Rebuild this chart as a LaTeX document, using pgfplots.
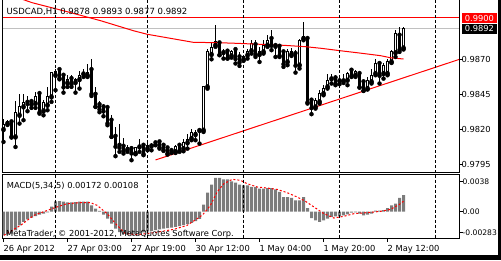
\documentclass[border=0pt]{standalone}
\usepackage{pgfplots}
\pgfplotsset{compat=1.18}
\usepackage{pgfplotstable}
\usepackage{fontspec}
\setmainfont{DejaVu Sans}
\definecolor{mtred}{RGB}{255,0,0}
\definecolor{bidgray}{RGB}{192,192,192}
\definecolor{histgray}{RGB}{124,124,124}
\newcommand{\mtfont}{\fontsize{8.3bp}{10bp}\selectfont}
\newcommand{\mtsmall}{\fontsize{7.6bp}{9bp}\selectfont}

\pgfplotstableread{
i o h l c
0 0.98198 0.98277 0.98110 0.98236
1 0.98241 0.98269 0.98231 0.98253
2 0.98253 0.98265 0.98141 0.98150
3 0.98145 0.98403 0.98074 0.98317
4 0.98300 0.98455 0.98241 0.98365
5 0.98360 0.98450 0.98265 0.98388
6 0.98393 0.98436 0.98329 0.98384
7 0.98398 0.98419 0.98353 0.98379
8 0.98384 0.98467 0.98353 0.98436
9 0.98455 0.98460 0.98312 0.98324
10 0.98331 0.98407 0.98300 0.98388
11 0.98372 0.98503 0.98336 0.98436
12 0.98431 0.98610 0.98396 0.98605
13 0.98586 0.98634 0.98479 0.98610
14 0.98626 0.98636 0.98557 0.98567
15 0.98586 0.98598 0.98462 0.98503
16 0.98531 0.98586 0.98503 0.98557
17 0.98562 0.98591 0.98503 0.98526
18 0.98534 0.98569 0.98462 0.98555
19 0.98555 0.98617 0.98491 0.98586
20 0.98595 0.98634 0.98574 0.98600
21 0.98584 0.98665 0.98574 0.98607
22 0.98626 0.98700 0.98438 0.98455
23 0.98450 0.98503 0.98360 0.98365
24 0.98376 0.98403 0.98322 0.98345
25 0.98360 0.98379 0.98293 0.98331
26 0.98355 0.98365 0.98229 0.98246
27 0.98265 0.98305 0.98146 0.98150
28 0.98150 0.98217 0.98008 0.98079
29 0.98086 0.98241 0.98039 0.98070
30 0.98079 0.98141 0.98027 0.98050
31 0.98055 0.98086 0.98039 0.98067
32 0.98062 0.98074 0.97979 0.98031
33 0.98027 0.98074 0.98022 0.98067
34 0.98074 0.98134 0.98039 0.98081
35 0.98086 0.98103 0.98015 0.98027
36 0.98062 0.98127 0.98050 0.98081
37 0.98081 0.98103 0.98050 0.98088
38 0.98103 0.98115 0.98086 0.98093
39 0.98110 0.98127 0.98062 0.98074
40 0.98086 0.98093 0.98046 0.98055
41 0.98067 0.98079 0.98019 0.98031
42 0.98048 0.98067 0.98031 0.98053
43 0.98039 0.98091 0.98031 0.98079
44 0.98086 0.98103 0.98039 0.98050
45 0.98062 0.98134 0.98043 0.98103
46 0.98103 0.98169 0.98062 0.98129
47 0.98134 0.98205 0.98122 0.98177
48 0.98162 0.98198 0.98122 0.98179
49 0.98191 0.98205 0.98098 0.98196
50 0.98193 0.98510 0.98181 0.98503
51 0.98503 0.98770 0.98490 0.98758
52 0.98734 0.98824 0.98700 0.98784
53 0.98800 0.98943 0.98789 0.98824
54 0.98817 0.98824 0.98729 0.98734
55 0.98748 0.98777 0.98705 0.98753
56 0.98758 0.98765 0.98705 0.98710
57 0.98724 0.98769 0.98712 0.98758
58 0.98769 0.98777 0.98670 0.98705
59 0.98717 0.98753 0.98653 0.98681
60 0.98698 0.98729 0.98689 0.98717
61 0.98729 0.98777 0.98705 0.98753
62 0.98760 0.98836 0.98741 0.98812
63 0.98805 0.98836 0.98717 0.98734
64 0.98734 0.98789 0.98681 0.98753
65 0.98753 0.98836 0.98741 0.98800
66 0.98800 0.98872 0.98789 0.98836
67 0.98848 0.98908 0.98765 0.98800
68 0.98798 0.98812 0.98717 0.98793
69 0.98793 0.98800 0.98717 0.98729
70 0.98753 0.98765 0.98646 0.98669
71 0.98681 0.98777 0.98658 0.98753
72 0.98734 0.98784 0.98724 0.98753
73 0.98741 0.98765 0.98605 0.98658
74 0.98658 0.98848 0.98634 0.98836
75 0.98848 0.98967 0.98836 0.98865
76 0.98848 0.98860 0.98384 0.98396
77 0.98408 0.98420 0.98308 0.98355
78 0.98360 0.98420 0.98348 0.98408
79 0.98396 0.98479 0.98384 0.98455
80 0.98455 0.98515 0.98443 0.98491
81 0.98503 0.98598 0.98491 0.98550
82 0.98560 0.98598 0.98527 0.98565
83 0.98567 0.98586 0.98515 0.98527
84 0.98546 0.98574 0.98522 0.98550
85 0.98546 0.98598 0.98531 0.98555
86 0.98550 0.98610 0.98515 0.98598
87 0.98622 0.98634 0.98574 0.98586
88 0.98586 0.98622 0.98574 0.98610
89 0.98598 0.98610 0.98498 0.98503
90 0.98539 0.98550 0.98474 0.98479
91 0.98491 0.98574 0.98484 0.98550
92 0.98539 0.98634 0.98527 0.98586
93 0.98598 0.98705 0.98586 0.98670
94 0.98670 0.98681 0.98527 0.98586
95 0.98598 0.98670 0.98562 0.98658
96 0.98598 0.98705 0.98586 0.98681
97 0.98681 0.98765 0.98674 0.98753
98 0.98746 0.98912 0.98717 0.98884
99 0.98872 0.98931 0.98753 0.98770
100 0.98780 0.98930 0.98770 0.98920
}\candles

\pgfplotstableread{
i m
0 -0.00245
1 -0.00238
2 -0.00228
3 -0.00193
4 -0.00142
5 -0.00107
6 -0.00079
7 -0.00062
8 -0.00045
9 -0.00031
10 -0.00021
11 -0.00007
12 0.00052
13 0.00107
14 0.00110
15 0.00104
16 0.00097
17 0.00097
18 0.00100
19 0.00104
20 0.00104
21 0.00104
22 0.00066
23 0.00031
24 0.00007
25 -0.00031
26 -0.00073
27 -0.00124
28 -0.00176
29 -0.00211
30 -0.00228
31 -0.00238
32 -0.00245
33 -0.00235
34 -0.00225
35 -0.00215
36 -0.00205
37 -0.00198
38 -0.00190
39 -0.00183
40 -0.00176
41 -0.00170
42 -0.00164
43 -0.00158
44 -0.00150
45 -0.00140
46 -0.00128
47 -0.00115
48 -0.00098
49 -0.00075
50 0.00073
51 0.00197
52 0.00280
53 0.00349
54 0.00349
55 0.00335
56 0.00335
57 0.00314
58 0.00300
59 0.00280
60 0.00273
61 0.00273
62 0.00256
63 0.00256
64 0.00238
65 0.00238
66 0.00245
67 0.00245
68 0.00231
69 0.00204
70 0.00152
71 0.00152
72 0.00142
73 0.00117
74 0.00117
75 0.00152
76 0.00038
77 -0.00066
78 -0.00090
79 -0.00107
80 -0.00090
81 -0.00073
82 -0.00055
83 -0.00048
84 -0.00048
85 -0.00038
86 -0.00028
87 -0.00010
88 -0.00007
89 -0.00021
90 -0.00038
91 -0.00031
92 -0.00021
93 0.00010
94 0.00010
95 0.00017
96 0.00038
97 0.00066
98 0.00083
99 0.00142
100 0.00172
}\macd

\begin{document}
\begin{tikzpicture}[x=1bp,y=1bp]
% ---------------- main price panel
\begin{axis}[name=main, at={(2.5bp,87.5bp)}, anchor=south west, scale only axis,
  width=457bp, height=172.5bp,
  xmin=-0.25, xmax=114, ymin=0.978914, ymax=0.991236,
  axis line style={draw=none},
  xtick=\empty,
  ytick={0.9795,0.9820,0.9845,0.9870},
  yticklabels={0.9795,0.9820,0.9845,0.9870},
  ytick pos=right, yticklabel pos=right,
  scaled ticks=false,
  tick align=outside, major tick length=3bp,
  tick style={black, line width=1bp},
  yticklabel style={anchor=west, inner sep=0pt, font=\mtfont, xshift=-1bp},
]
\addplot[bidgray, line width=1bp] coordinates {(-0.25,0.9892) (114,0.9892)};
% wicks
\addplot[only marks, mark=none, error bars/.cd, y dir=plus, y explicit, error mark=none,
  error bar style={black, solid, line width=1bp}]
  table[x=i, y=l, y error expr={\thisrow{h}-\thisrow{l}}] {\candles};
% bodies (outline / black)
\addplot[only marks, mark=none, error bars/.cd, y dir=plus, y explicit, error mark=none,
  error bar style={black, solid, line width=3bp, line cap=butt}]
  table[x=i, y expr={min(\thisrow{o},\thisrow{c})-0.0000357},
        y error expr={abs(\thisrow{c}-\thisrow{o})+0.0000714}] {\candles};
% white interior of rising candles
\addplot[only marks, mark=none, error bars/.cd, y dir=plus, y explicit, error mark=none,
  error bar style={white, solid, line width=1bp, line cap=butt}]
  table[x=i, y expr={\thisrow{o}+0.0000357},
        y error expr={max(\thisrow{c}-\thisrow{o}-0.0000714,0)}] {\candles};
% moving average
\addplot[mtred, line width=1bp] coordinates {
(0,0.99175) (7.2,0.99104) (15.9,0.99040) (24.25,0.98976) (32.5,0.98904)
(35.9,0.98879) (40.9,0.98854) (47.5,0.98821) (53.4,0.98819) (58.4,0.98814)
(64.25,0.98807) (70,0.98800) (75.5,0.98790) (79.25,0.98779) (84.25,0.98761)
(88.4,0.98747) (94.25,0.98726) (96.75,0.98711) (100,0.98702)};
% trend line
\addplot[mtred, line width=1bp] coordinates {(38,0.97981) (114,0.98700)};
% horizontal line
\addplot[mtred, line width=1bp] coordinates {(-0.25,0.9900) (114,0.9900)};
% period separators
\pgfplotsinvokeforeach{13,36,60,84,108}{
  \addplot[black, line width=1bp, dash pattern=on 3bp off 2bp] coordinates {(#1,0.991236) (#1,0.978914)};
}
\end{axis}
% ---------------- MACD panel
\begin{axis}[name=macdax, at={(2.5bp,21.5bp)}, anchor=south west, scale only axis,
  width=457bp, height=64bp,
  xmin=-0.25, xmax=114, ymin=-0.002780, ymax=0.003851,
  axis line style={black, line width=1bp},
  xtick={0,16,32,48,64,80,96},
  xticklabels={26 Apr 2012,27 Apr 03:00,27 Apr 19:00,30 Apr 12:00,1 May 04:00,1 May 20:00,2 May 12:00},
  xtick pos=left, ytick pos=right, yticklabel pos=right,
  ytick={-0.002179,0,0.003105}, yticklabels={-0.00283,0.00,0.0038},
  scaled ticks=false,
  tick align=outside, major tick length=3.5bp,
  tick style={black, line width=1bp},
  xticklabel style={anchor=north west, inner sep=0pt, font=\mtfont, yshift=-3.5bp},
  yticklabel style={anchor=west, inner sep=0pt, font=\mtsmall, xshift=-0.5bp},
]
\addplot[ybar, bar width=3bp, bar shift=0pt, fill=histgray, draw=none] table[x=i, y=m] {\macd};
\addplot[mtred, line width=1bp, dash pattern=on 2bp off 2bp] coordinates {
(0.1,-0.00245) (4.25,-0.00142) (7.6,-0.00038) (12.6,0.00038) (15.9,0.00083)
(19.25,0.00093) (21.75,0.00093) (23.4,0.00066) (25.9,-0.00021) (28.4,-0.00142)
(30.5,-0.00228) (33.4,-0.00238) (37.6,-0.00218) (42.6,-0.00183) (45.9,-0.00142)
(48.4,-0.00073) (49.75,-0.00034) (51.75,0.00066) (53.4,0.00204) (55.1,0.00290)
(57.2,0.00335) (59.25,0.00325) (60.9,0.00290) (63.4,0.00256) (65.9,0.00245)
(68.4,0.00231) (70.9,0.00197) (73.4,0.00152) (75.5,0.00107) (78,0.00038)
(80.1,-0.00021) (82.6,-0.00066) (85.1,-0.00048) (87.6,-0.00021) (90.9,-0.00010)
(94.25,0.00003) (96.75,0.00024) (99,0.00076) (100,0.00108)};
\pgfplotsinvokeforeach{13,36,60,84,108}{
  \addplot[black, line width=1bp, dash pattern=on 3bp off 2bp] coordinates {(#1,0.003851) (#1,-0.002780)};
}
\end{axis}
% frame of the price panel (open at the top)
\draw[black, line width=1bp] (2.5,260) -- (2.5,87.5) -- (459.5,87.5) -- (459.5,260);
% texts
\node[anchor=base west, inner sep=0pt, font=\fontsize{8.5bp}{10bp}\selectfont] at (6.5,246) {USDCAD,H1 0.9878 0.9893 0.9877 0.9892};
\node[anchor=base west, inner sep=0pt, font=\mtfont] at (6.7,71.5) {MACD(5,34,5) 0.00172 0.00108};
\node[anchor=base west, inner sep=0pt, font=\mtfont] at (6,23.3) {MetaTrader, © 2001-2012, MetaQuotes Software Corp.};
% price labels
\node[fill=mtred, text=white, anchor=west, inner sep=0pt, minimum width=35bp, minimum height=10.6bp, font=\mtfont] at (461.7,242) {0.9900};
\node[fill=black, text=white, anchor=west, inner sep=0pt, minimum width=35bp, minimum height=10.3bp, font=\mtfont] at (461.7,231.15) {0.9892};
% window edges
\fill[black] (497.5,0) rectangle (501,260);
\fill[black] (0,0) rectangle (501,5);
\pgfresetboundingbox
\useasboundingbox (0,0) rectangle (501,260);
\end{tikzpicture}
\end{document}
